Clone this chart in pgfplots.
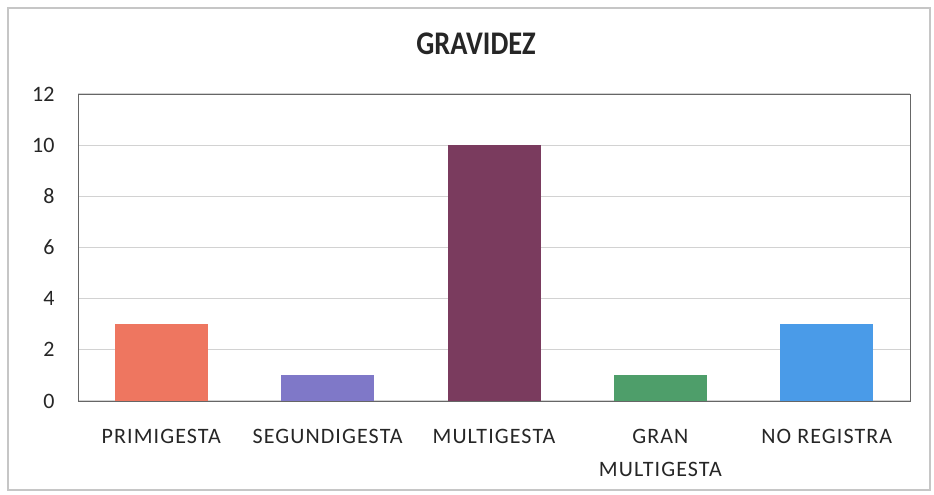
\documentclass[border=0pt]{standalone}
\usepackage{fontspec}
\setmainfont{Carlito}
\newfontfamily\titlefont[FakeStretch=0.86]{Carlito}
\newfontfamily\labelfont[LetterSpace=5]{Carlito}
\usepackage{pgfplots}
\pgfplotsset{compat=1.18}
\definecolor{c1}{HTML}{EE7660}
\definecolor{c2}{HTML}{7F78C8}
\definecolor{c3}{HTML}{7A3B5E}
\definecolor{c4}{HTML}{4E9E6A}
\definecolor{c5}{HTML}{4A9BE8}
\begin{document}
\begin{tikzpicture}[x=1pt,y=1pt]
\path[use as bounding box] (0,0) rectangle (934,495);
\draw[gray!45, line width=1.2pt, fill=white] (8,5) rectangle (930,487);
\node[font=\titlefont\bfseries\fontsize{33}{38}\selectfont, text=black!85] at (476,451) {GRAVIDEZ};
\begin{axis}[
  at={(78pt,94pt)}, anchor=south west, scale only axis,
  width=832pt, height=307pt,
  xmin=-0.5, xmax=4.5, ymin=0, ymax=12,
  ytick={0,2,...,12}, xtick={0,...,4},
  xticklabels={PRIMIGESTA, SEGUNDIGESTA, MULTIGESTA, {GRAN\\MULTIGESTA}, NO REGISTRA},
  ybar, bar width=93pt, bar shift=0pt,
  ymajorgrids, grid style={gray!35, line width=1pt},
  axis line style={black!60, line width=0.9pt},
  tick style={draw=none},
  /pgf/number format/assume math mode=true,
  x tick label style={align=center, font=\labelfont\fontsize{22}{33}\selectfont, text=black!85, anchor=north, yshift=-20pt},
  y tick label style={font=\fontsize{22}{26}\selectfont, text=black!85, xshift=-20pt},
]
\addplot[fill=c1, draw=none] coordinates {(0,3)};
\addplot[fill=c2, draw=none] coordinates {(1,1)};
\addplot[fill=c3, draw=none] coordinates {(2,10)};
\addplot[fill=c4, draw=none] coordinates {(3,1)};
\addplot[fill=c5, draw=none] coordinates {(4,3)};
\end{axis}
\end{tikzpicture}
\end{document}
